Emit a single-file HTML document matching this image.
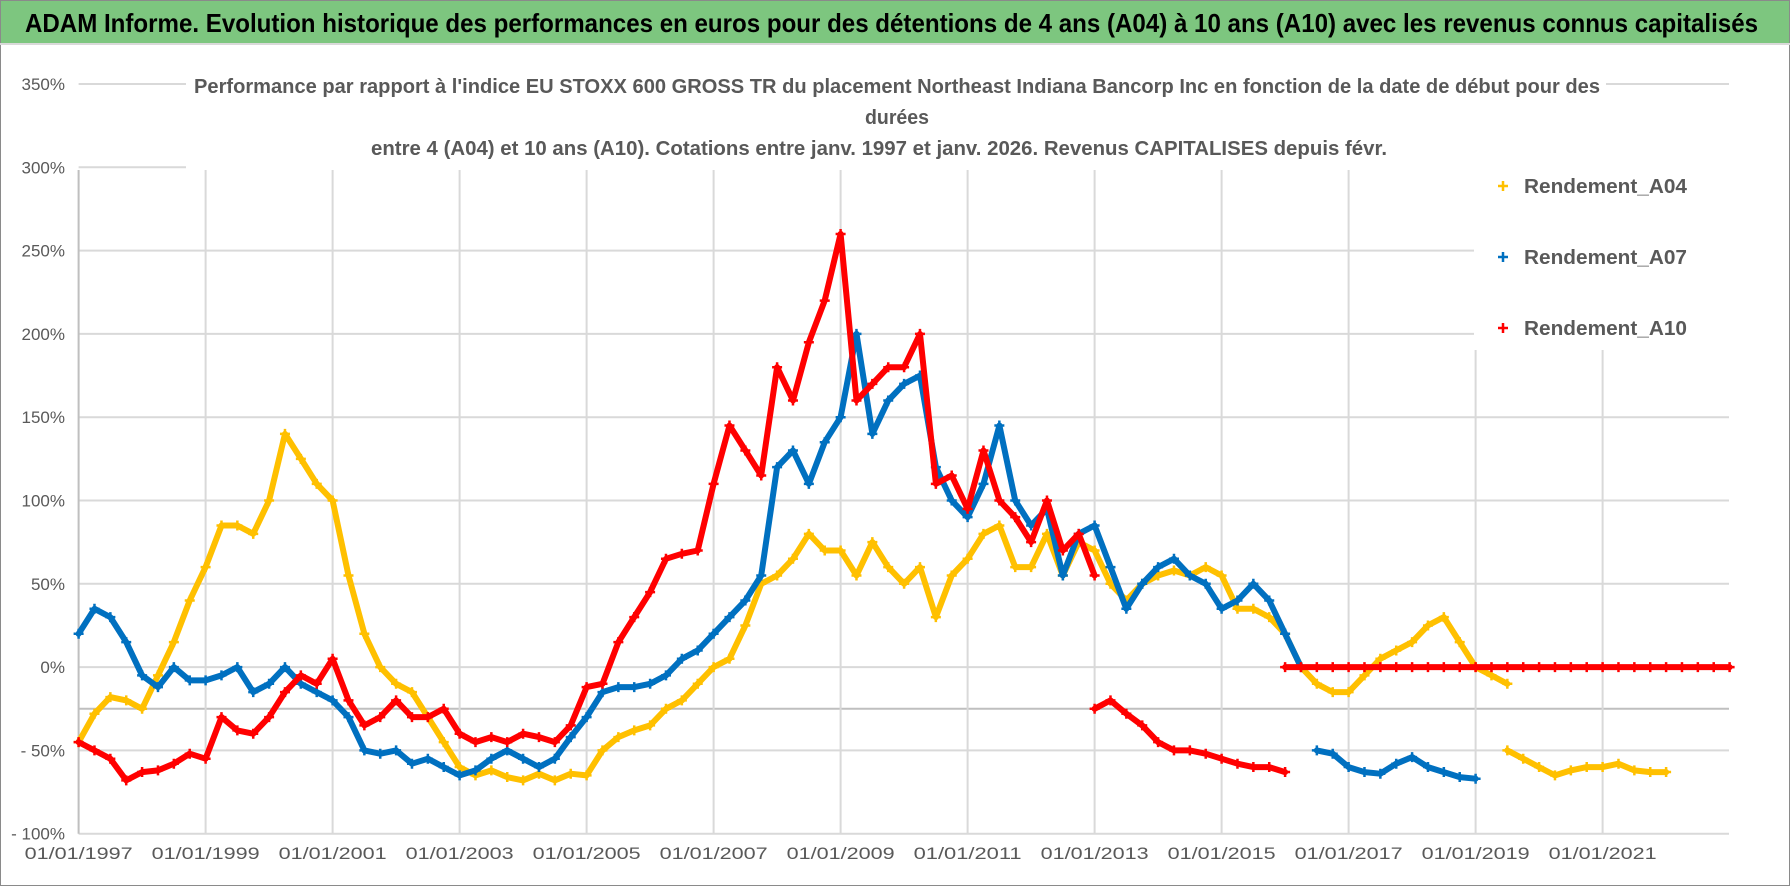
<!DOCTYPE html>
<html><head><meta charset="utf-8">
<style>
html,body{margin:0;padding:0;background:#fff;}
svg{display:block;font-family:"Liberation Sans",sans-serif;}
</style></head>
<body>
<svg id="chart" width="1790" height="886" viewBox="0 0 1790 886" xmlns="http://www.w3.org/2000/svg">
  <rect x="0" y="0" width="1790" height="886" fill="#fff" stroke="#8a8a8a" stroke-width="2"/>
  <rect x="1" y="1" width="1788" height="42" fill="#7dc67f"/>
  <line x1="0" y1="44" x2="1790" y2="44" stroke="#d9d9d9" stroke-width="2"/>
  <text x="25" y="32" font-size="26" font-weight="bold" fill="#000" textLength="1733" lengthAdjust="spacingAndGlyphs">ADAM Informe. Evolution historique des performances en euros pour des détentions de 4 ans (A04) à 10 ans (A10) avec les revenus connus capitalisés</text>
  <g id="grid"></g>
  <g id="yaxis"></g>
  <g id="xaxis"></g>
  <g id="series"></g>
  <rect x="186" y="70" width="1420" height="99" fill="#fff"/>
  <g font-size="20" font-weight="bold" fill="#595959" text-anchor="middle">
    <text x="897" y="93" textLength="1406" lengthAdjust="spacingAndGlyphs">Performance par rapport à l'indice EU STOXX 600 GROSS TR  du placement Northeast Indiana Bancorp Inc en fonction de la date de début pour des</text>
    <text x="897" y="124" textLength="64" lengthAdjust="spacingAndGlyphs">durées</text>
    <text x="879" y="155" textLength="1016" lengthAdjust="spacingAndGlyphs">entre 4 (A04) et 10 ans (A10).  Cotations entre janv. 1997 et janv. 2026. Revenus CAPITALISES depuis févr.</text>
  </g>
  <rect x="1474" y="160" width="256" height="190" fill="#fff"/>
  <g id="legend"></g>
</svg>
<script>
// ---- data (values in %) ----
const seriesNames = ["Rendement_A04", "Rendement_A07", "Rendement_A10"];
const stepYears = 0.25;
const a04Start = 1997.0;
const a04Main = [-45,-28,-18,-20,-25,-5,15,40,60,85,85,80,100,140,125,110,100,55,20,0,-10,-15,-30,-45,-60,-65,-62,-66,-68,-64,-68,-64,-65,-50,-42,-38,-35,-25,-20,-10,0,5,25,50,55,65,80,70,70,55,75,60,50,60,30,55,65,80,85,60,60,80,55,75,70,50,40,50,55,58,55,60,55,35,35,30,20,0,-10,-15,-15,-5,5,10,15,25,30,15,0,-5,-10];
const a04TailStart = 2019.5;
const a04Tail = [-50,-55,-60,-65,-62,-60,-60,-58,-62,-63,-63];
const a07Start = 1997.0;
const a07Main = [20,35,30,15,-5,-12,0,-8,-8,-5,0,-15,-10,0,-10,-15,-20,-30,-50,-52,-50,-58,-55,-60,-65,-62,-55,-50,-55,-60,-55,-42,-30,-15,-12,-12,-10,-5,5,10,20,30,40,55,120,130,110,135,150,200,140,160,170,175,120,100,90,110,145,100,85,95,55,80,85,60,35,50,60,65,55,50,35,40,50,40,20,0];
const a07TailStart = 2016.5;
const a07Tail = [-50,-52,-60,-63,-64,-58,-54,-60,-63,-66,-67];
const a10Start = 1997.0;
const a10Main = [-45,-50,-55,-68,-63,-62,-58,-52,-55,-30,-38,-40,-30,-15,-5,-10,5,-20,-35,-30,-20,-30,-30,-25,-40,-45,-42,-45,-40,-42,-45,-35,-12,-10,15,30,45,65,68,70,110,145,130,115,180,160,195,220,260,160,170,180,180,200,110,115,95,130,100,90,75,100,70,80,55];
const a10TailStart = 2013.0;
const a10Tail = [-25,-20,-28,-35,-45,-50,-50,-52,-55,-58,-60,-60,-63];
const a10FlatStart = 2016.0;
const a10Flat = [0,0,0,0,0,0,0,0,0,0,0,0,0,0,0,0,0,0,0,0,0,0,0,0,0,0,0,0,0];
const yTicks = [350,300,250,200,150,100,50,0,-50,-100];
const yTickLabels = ["350%","300%","250%","200%","150%","100%","50%","0%","- 50%","- 100%"];
const xTickYears = [1997,1999,2001,2003,2005,2007,2009,2011,2013,2015,2017,2019,2021];
const xTickLabels = ["01/01/1997","01/01/1999","01/01/2001","01/01/2003","01/01/2005","01/01/2007","01/01/2009","01/01/2011","01/01/2013","01/01/2015","01/01/2017","01/01/2019","01/01/2021"];

// ---- axes ----
const X0 = 78.6, PX_PER_YEAR = 63.5, X_RIGHT = 1729;
const Y350 = 84, PX_PER_PCT = 83.3/50;
function xScale(yr){ return X0 + (yr - 1997) * PX_PER_YEAR; }
function yScale(v){ return Y350 + (350 - v) * PX_PER_PCT; }

const NS = "http://www.w3.org/2000/svg";
function mk(tag, attrs, parent){
  const e = document.createElementNS(NS, tag);
  for (const k in attrs) e.setAttribute(k, attrs[k]);
  parent.appendChild(e);
  return e;
}
const grid = document.getElementById('grid');
const yaxis = document.getElementById('yaxis');
const xaxis = document.getElementById('xaxis');
const seriesG = document.getElementById('series');
const legend = document.getElementById('legend');

yTicks.forEach((v,i)=>{
  const y = yScale(v);
  const l = mk('line',{x1:X0,y1:y,x2:X_RIGHT,y2:y,stroke:'#d9d9d9','stroke-width':2},grid);
  
  
  const t = mk('text',{x:65,y:y+6,'font-size':17,fill:'#595959','text-anchor':'end'},yaxis);
  t.textContent = yTickLabels[i];
  
  
});
// reference line at -25%
const ref = mk('line',{x1:X0,y1:yScale(-25),x2:X_RIGHT,y2:yScale(-25),stroke:'#bfbfbf','stroke-width':2},grid);



xTickYears.forEach((yr,i)=>{
  const x = xScale(yr);
  const l = mk('line',{x1:x,y1:Y350+86,x2:x,y2:yScale(-100),stroke:i===0?'#bfbfbf':'#d9d9d9','stroke-width':2},grid);
  
  
  const t = mk('text',{x:x,y:859,'font-size':17,fill:'#595959','text-anchor':'middle',textLength:108,lengthAdjust:'spacingAndGlyphs'},xaxis);
  t.textContent = xTickLabels[i];
  
  
});

function drawSegment(vals, start, color, name){
  const g = mk('g',{},seriesG);
  
  
  const pts = vals.map((v,i)=>[xScale(start + i*stepYears), yScale(v)]);
  const pl = mk('polyline',{points:pts.map(p=>p[0].toFixed(1)+','+p[1].toFixed(1)).join(' '),fill:'none',stroke:color,'stroke-width':6,'stroke-linejoin':'round','stroke-linecap':'round'},g);
  
  
  pts.forEach(p=>{
    const m = mk('path',{d:`M${p[0]-5},${p[1]}h10M${p[0]},${p[1]-5}v10`,stroke:color,'stroke-width':2.5},g);
    
    
  });
}
const YEL='#FFC000', BLU='#0070C0', RED='#FF0000';
drawSegment(a04Main, a04Start, YEL, 'series-a04');
drawSegment(a04Tail, a04TailStart, YEL, 'series-a04-tail');
drawSegment(a07Main, a07Start, BLU, 'series-a07');
drawSegment(a07Tail, a07TailStart, BLU, 'series-a07-tail');
drawSegment(a10Main, a10Start, RED, 'series-a10');
drawSegment(a10Tail, a10TailStart, RED, 'series-a10-tail');
drawSegment(a10Flat, a10FlatStart, RED, 'series-a10-flat');

const legColors = [YEL, BLU, RED];
const legY = [186, 257, 328];
seriesNames.forEach((n,i)=>{
  const g = mk('g',{},legend);
  
  
  const m = mk('path',{d:`M1498,${legY[i]}h10M1503,${legY[i]-5}v10`,stroke:legColors[i],'stroke-width':2.5},g);
  
  
  const t = mk('text',{x:1524,y:legY[i]+7,'font-size':20,'font-weight':'bold',fill:'#595959',textLength:163,lengthAdjust:'spacingAndGlyphs'},g);
  t.textContent = n;
  
  
});
</script>
</body></html>
